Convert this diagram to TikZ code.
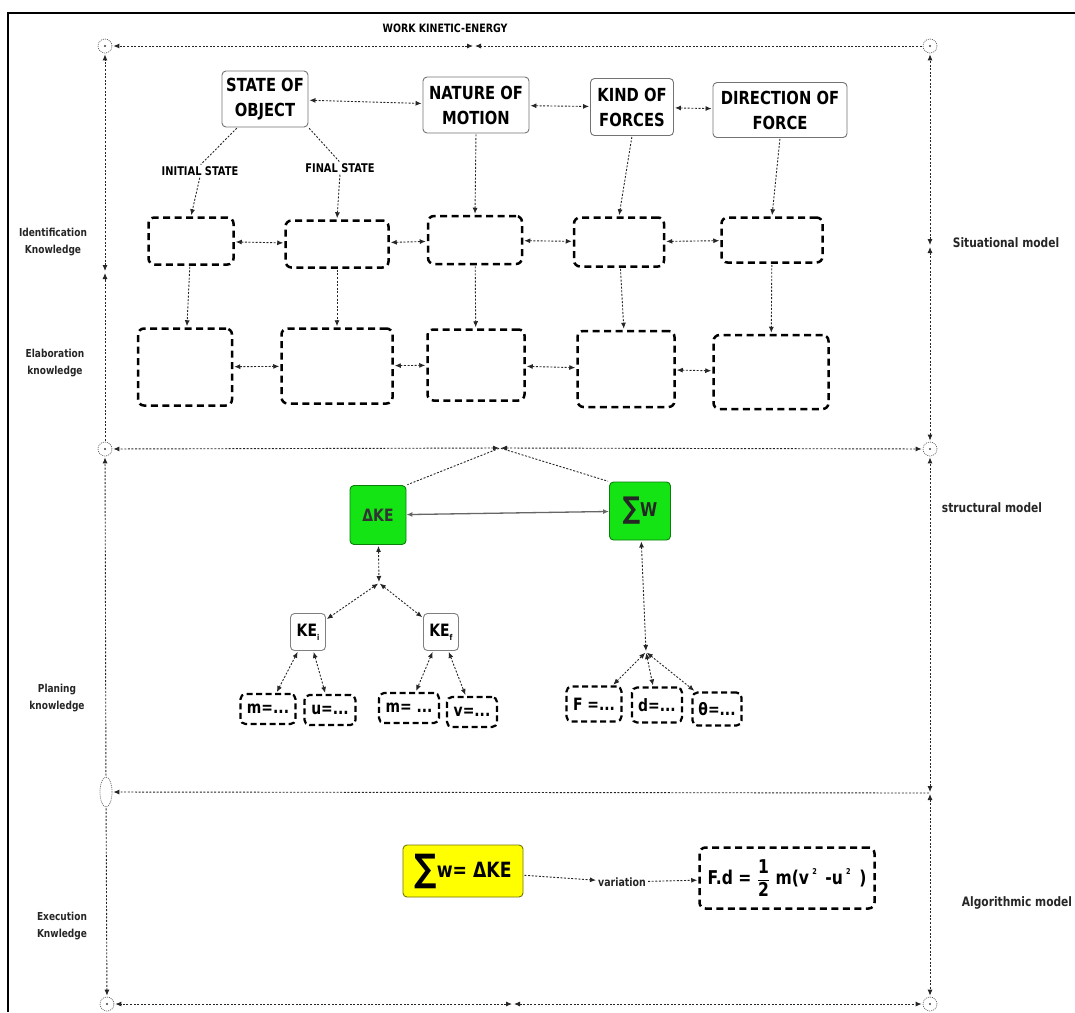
\documentclass[tikz,border=0pt]{standalone}
\usepackage{fontspec}
\setmainfont{DejaVu Sans}[FakeStretch=0.82]
\usetikzlibrary{arrows.meta,shapes.geometric}
\definecolor{kgreen}{RGB}{20,228,20}
\definecolor{kyellow}{RGB}{255,255,0}
\begin{document}
\begin{tikzpicture}[x=1pt,y=-1pt,
  >={Latex[length=6pt,width=5pt]},
  conn/.style={draw=black!85, line width=0.9pt, dash pattern=on 2pt off 1.6pt, shorten >=1pt, shorten <=1pt},
  solidconn/.style={draw=black!60, line width=1.3pt},
  topbox/.style={draw=black!55, line width=0.9pt, rounded corners=4pt, fill=white, align=center, inner sep=0pt, font=\bfseries\fontsize{18}{25}\selectfont},
  dbox/.style={draw=black, line width=2.5pt, dash pattern=on 7pt off 4.5pt, rounded corners=6pt, inner sep=0pt},
  sbox/.style={draw=black, line width=2.2pt, dash pattern=on 6pt off 3.5pt, rounded corners=5pt, inner sep=0pt, font=\bfseries\fontsize{17}{18}\selectfont},
  kebox/.style={draw=black!50, line width=0.9pt, rounded corners=4pt, fill=white, inner sep=0pt, minimum width=35pt, minimum height=37pt, font=\bfseries\fontsize{17}{18}\selectfont},
  gbox/.style={fill=kgreen, draw=kgreen!55!black, line width=0.9pt, rounded corners=4pt, inner sep=0pt},
  circ/.style={circle, draw=black!60, line width=0.7pt, dash pattern=on 1pt off 1pt, minimum size=14pt, inner sep=0pt,
     path picture={\fill[black!75] (path picture bounding box.center) circle (1.2pt);}},
  lab/.style={font=\bfseries\fontsize{11.5}{13}\selectfont, inner sep=1pt},
  sidelab/.style={font=\bfseries\fontsize{11}{17}\selectfont, align=center, text=black!85},
  modlab/.style={font=\bfseries\fontsize{13}{15}\selectfont, text=black!85}
]
\useasboundingbox (0,0) rectangle (1075,1012);
% page border
\draw[line width=2pt] (8,1012) -- (8,13) -- (1075,13);

% frame corner nodes
\node[circ] (c1) at (105,46) {};
\node[circ] (c2) at (930,46) {};
\node[circ] (c3) at (105,449) {};
\node[circ] (c4) at (930,449) {};
\node[ellipse, draw=black!60, line width=0.7pt, dash pattern=on 1pt off 1pt, minimum width=12pt, minimum height=30pt, inner sep=0pt] (c5) at (106,792) {};
\coordinate (c6) at (930,793);
\node[circ] (c7) at (107,1004) {};
\node[circ] (c8) at (930,1004) {};
\coordinate (mtop) at (474,46);
\coordinate (mleft) at (105,272);
\coordinate (mright) at (930,246);
\coordinate (mmid) at (500,448);
\coordinate (mbot) at (513,1004);

% frame connectors
\draw[conn,<->] (mtop) -- (c1);
\draw[conn,->] (c2) -- (mtop);
\draw[conn,<->] (mleft) -- (c1);
\draw[conn,->] (c3) -- (mleft);
\draw[conn,<->] (mright) -- (c2);
\draw[conn,<->] (mright) -- (c4);
\draw[conn,<->] (mmid) -- (c3);
\draw[conn,<->] (mmid) -- (c4);
\draw[conn,->] (c5) -- (c3);
\draw[conn,<->] (c6) -- (c4);
\draw[conn,->] (c6) -- (c5);
\draw[conn,->] (c5) -- (c7);
\draw[conn,<->] (c6) -- (c8);
\draw[conn,<->] (mbot) -- (c7);
\draw[conn,<->] (mbot) -- (c8);

% title and side labels
\node[lab] (title) at (445,28) {WORK KINETIC-ENERGY};
\node[sidelab] (lid) at (53,242) {Identification\\Knowledge};
\node[sidelab] (lel) at (55,363) {Elaboration\\knowledge};
\node[sidelab] (lpl) at (57,698) {Planing\\knowledge};
\node[sidelab] (lex) at (62,926) {Execution\\Knwledge};
\node[modlab] (sit) at (1006,243) {Situational model};
\node[modlab] (str) at (992,508) {structural model};
\node[modlab] (alg) at (1017,903) {Algorithmic model};

% top concept nodes
\node[topbox, minimum width=86pt, minimum height=56pt] (so) at (265,99) {STATE OF\\OBJECT};
\node[topbox, minimum width=106pt, minimum height=56pt] (nm) at (476,105) {NATURE OF\\MOTION};
\node[topbox, minimum width=83pt, minimum height=57pt] (kf) at (632,107) {KIND OF\\FORCES};
\node[topbox, minimum width=134pt, minimum height=55pt] (df) at (780,110) {DIRECTION OF\\FORCE};
\draw[conn,<->] (so) -- (nm);
\draw[conn,<->] (nm) -- (kf);
\draw[conn,<->] (kf) -- (df);

\node[lab, font=\bfseries\fontsize{12}{14}\selectfont] (init) at (200,171) {INITIAL STATE};
\node[lab, font=\bfseries\fontsize{12}{14}\selectfont] (fin) at (340,168) {FINAL STATE};

% identification row
\node[dbox, minimum width=85pt, minimum height=47pt] (b1) at (191,241) {};
\node[dbox, minimum width=103pt, minimum height=47pt] (b2) at (337,244) {};
\node[dbox, minimum width=94pt, minimum height=48pt] (b3) at (475,240) {};
\node[dbox, minimum width=90pt, minimum height=49pt] (b4) at (619,242) {};
\node[dbox, minimum width=101pt, minimum height=45pt] (b5) at (772,240) {};
% elaboration row
\node[dbox, minimum width=94pt, minimum height=77pt] (e1) at (185,367) {};
\node[dbox, minimum width=111pt, minimum height=75pt] (e2) at (337,366) {};
\node[dbox, minimum width=97pt, minimum height=71pt] (e3) at (476,365) {};
\node[dbox, minimum width=97pt, minimum height=76pt] (e4) at (626,369) {};
\node[dbox, minimum width=115pt, minimum height=74pt] (e5) at (771,372) {};

\draw[conn] (so.south west) ++(16,0) coordinate (sosw) (sosw) -- (init.north);
\draw[conn] (so.south east) -- (fin.north);
\draw[conn,->] (init.south) -- (b1.north);
\draw[conn,->] (fin.south) -- (b2.north);
\draw[conn,->] (nm.south) -- (b3.north);
\draw[conn,->] (kf.south) -- (b4.north);
\draw[conn,->] (df.south) -- (b5.north);
\foreach \a/\b in {b1/b2,b2/b3,b3/b4,b4/b5,e1/e2,e2/e3,e3/e4,e4/e5}{
  \draw[conn,<->] (\a) -- (\b);
}
\foreach \a/\b in {b1/e1,b2/e2,b3/e3,b4/e4,b5/e5}{
  \draw[conn,->] (\a) -- (\b);
}

% structural model
\node[gbox, minimum width=56pt, minimum height=59pt, font=\bfseries\fontsize{17}{18}\selectfont, text=black!80] (dke) at (378,515) {ΔKE};
\node[gbox, minimum width=61pt, minimum height=58pt, font=\bfseries\fontsize{19}{20}\selectfont, text=black!85] (sw) at (640,511) {\raisebox{-2pt}{\fontsize{30}{30}\selectfont ∑}W};
\draw[solidconn,<->] (dke) -- (sw);
\draw[conn] (mmid) -- (dke.north east);
\draw[conn] (mmid) -- (sw.north west);

\coordinate (mke) at (379,583);
\node[kebox] (kei) at (308,632) {KE\raisebox{-4pt}{\fontsize{8}{8}\selectfont i}};
\node[kebox] (kef) at (441,632) {KE\raisebox{-4pt}{\fontsize{8}{8}\selectfont f}};
\draw[conn,<->] (dke) -- (mke);
\draw[conn,<->] (mke) -- (kei);
\draw[conn,<->] (mke) -- (kef);

\node[sbox, minimum width=55pt, minimum height=30pt] (m1) at (268,709) {m=...};
\node[sbox, minimum width=51pt, minimum height=30pt] (u1) at (330,710) {u=...};
\node[sbox, minimum width=60pt, minimum height=30pt] (m2) at (409,708) {m= ...};
\node[sbox, minimum width=50pt, minimum height=30pt] (v1) at (472,712) {v=...};
\draw[conn,<->] (kei) -- (m1);
\draw[conn,<->] (kei) -- (u1);
\draw[conn,<->] (kef) -- (m2);
\draw[conn,<->] (kef) -- (v1);

\coordinate (mw) at (646,652);
\node[sbox, minimum width=55pt, minimum height=35pt] (fF) at (594,704) {F =...};
\node[sbox, minimum width=50pt, minimum height=35pt] (fd) at (657,705) {d=...};
\node[sbox, minimum width=49pt, minimum height=33pt] (fth) at (717,709) {θ=...};
\draw[conn,<->] (sw) -- (mw);
\draw[conn,<->] (mw) -- (fF);
\draw[conn,<->] (mw) -- (fd);
\draw[conn,<->] (mw) -- (fth);

% algorithmic model
\node[fill=kyellow, draw=kyellow!45!black, line width=0.9pt, rounded corners=4pt, inner sep=0pt, minimum width=120pt, minimum height=52pt, font=\bfseries\fontsize{21}{22}\selectfont] (yb) at (463,871) {\raisebox{-4pt}{\fontsize{38}{38}\selectfont ∑}w= ΔKE};
\node[font=\bfseries\fontsize{11.5}{13}\selectfont, inner sep=1pt, text=black!85] (var) at (622,882) {variation};
\node[dbox, minimum width=175pt, minimum height=61pt, font=\bfseries\fontsize{19}{20}\selectfont] (fb) at (787,878) {F.d = \ensuremath{\displaystyle\frac{\mbox{1}}{\mbox{2}}} m(v\,\raisebox{10pt}{\fontsize{8}{8}\selectfont 2}\, -u\,\raisebox{10pt}{\fontsize{8}{8}\selectfont 2}\, )};
\draw[conn,->] (yb) -- (var);
\draw[conn,->] (var) -- (fb);
\end{tikzpicture}
\end{document}
